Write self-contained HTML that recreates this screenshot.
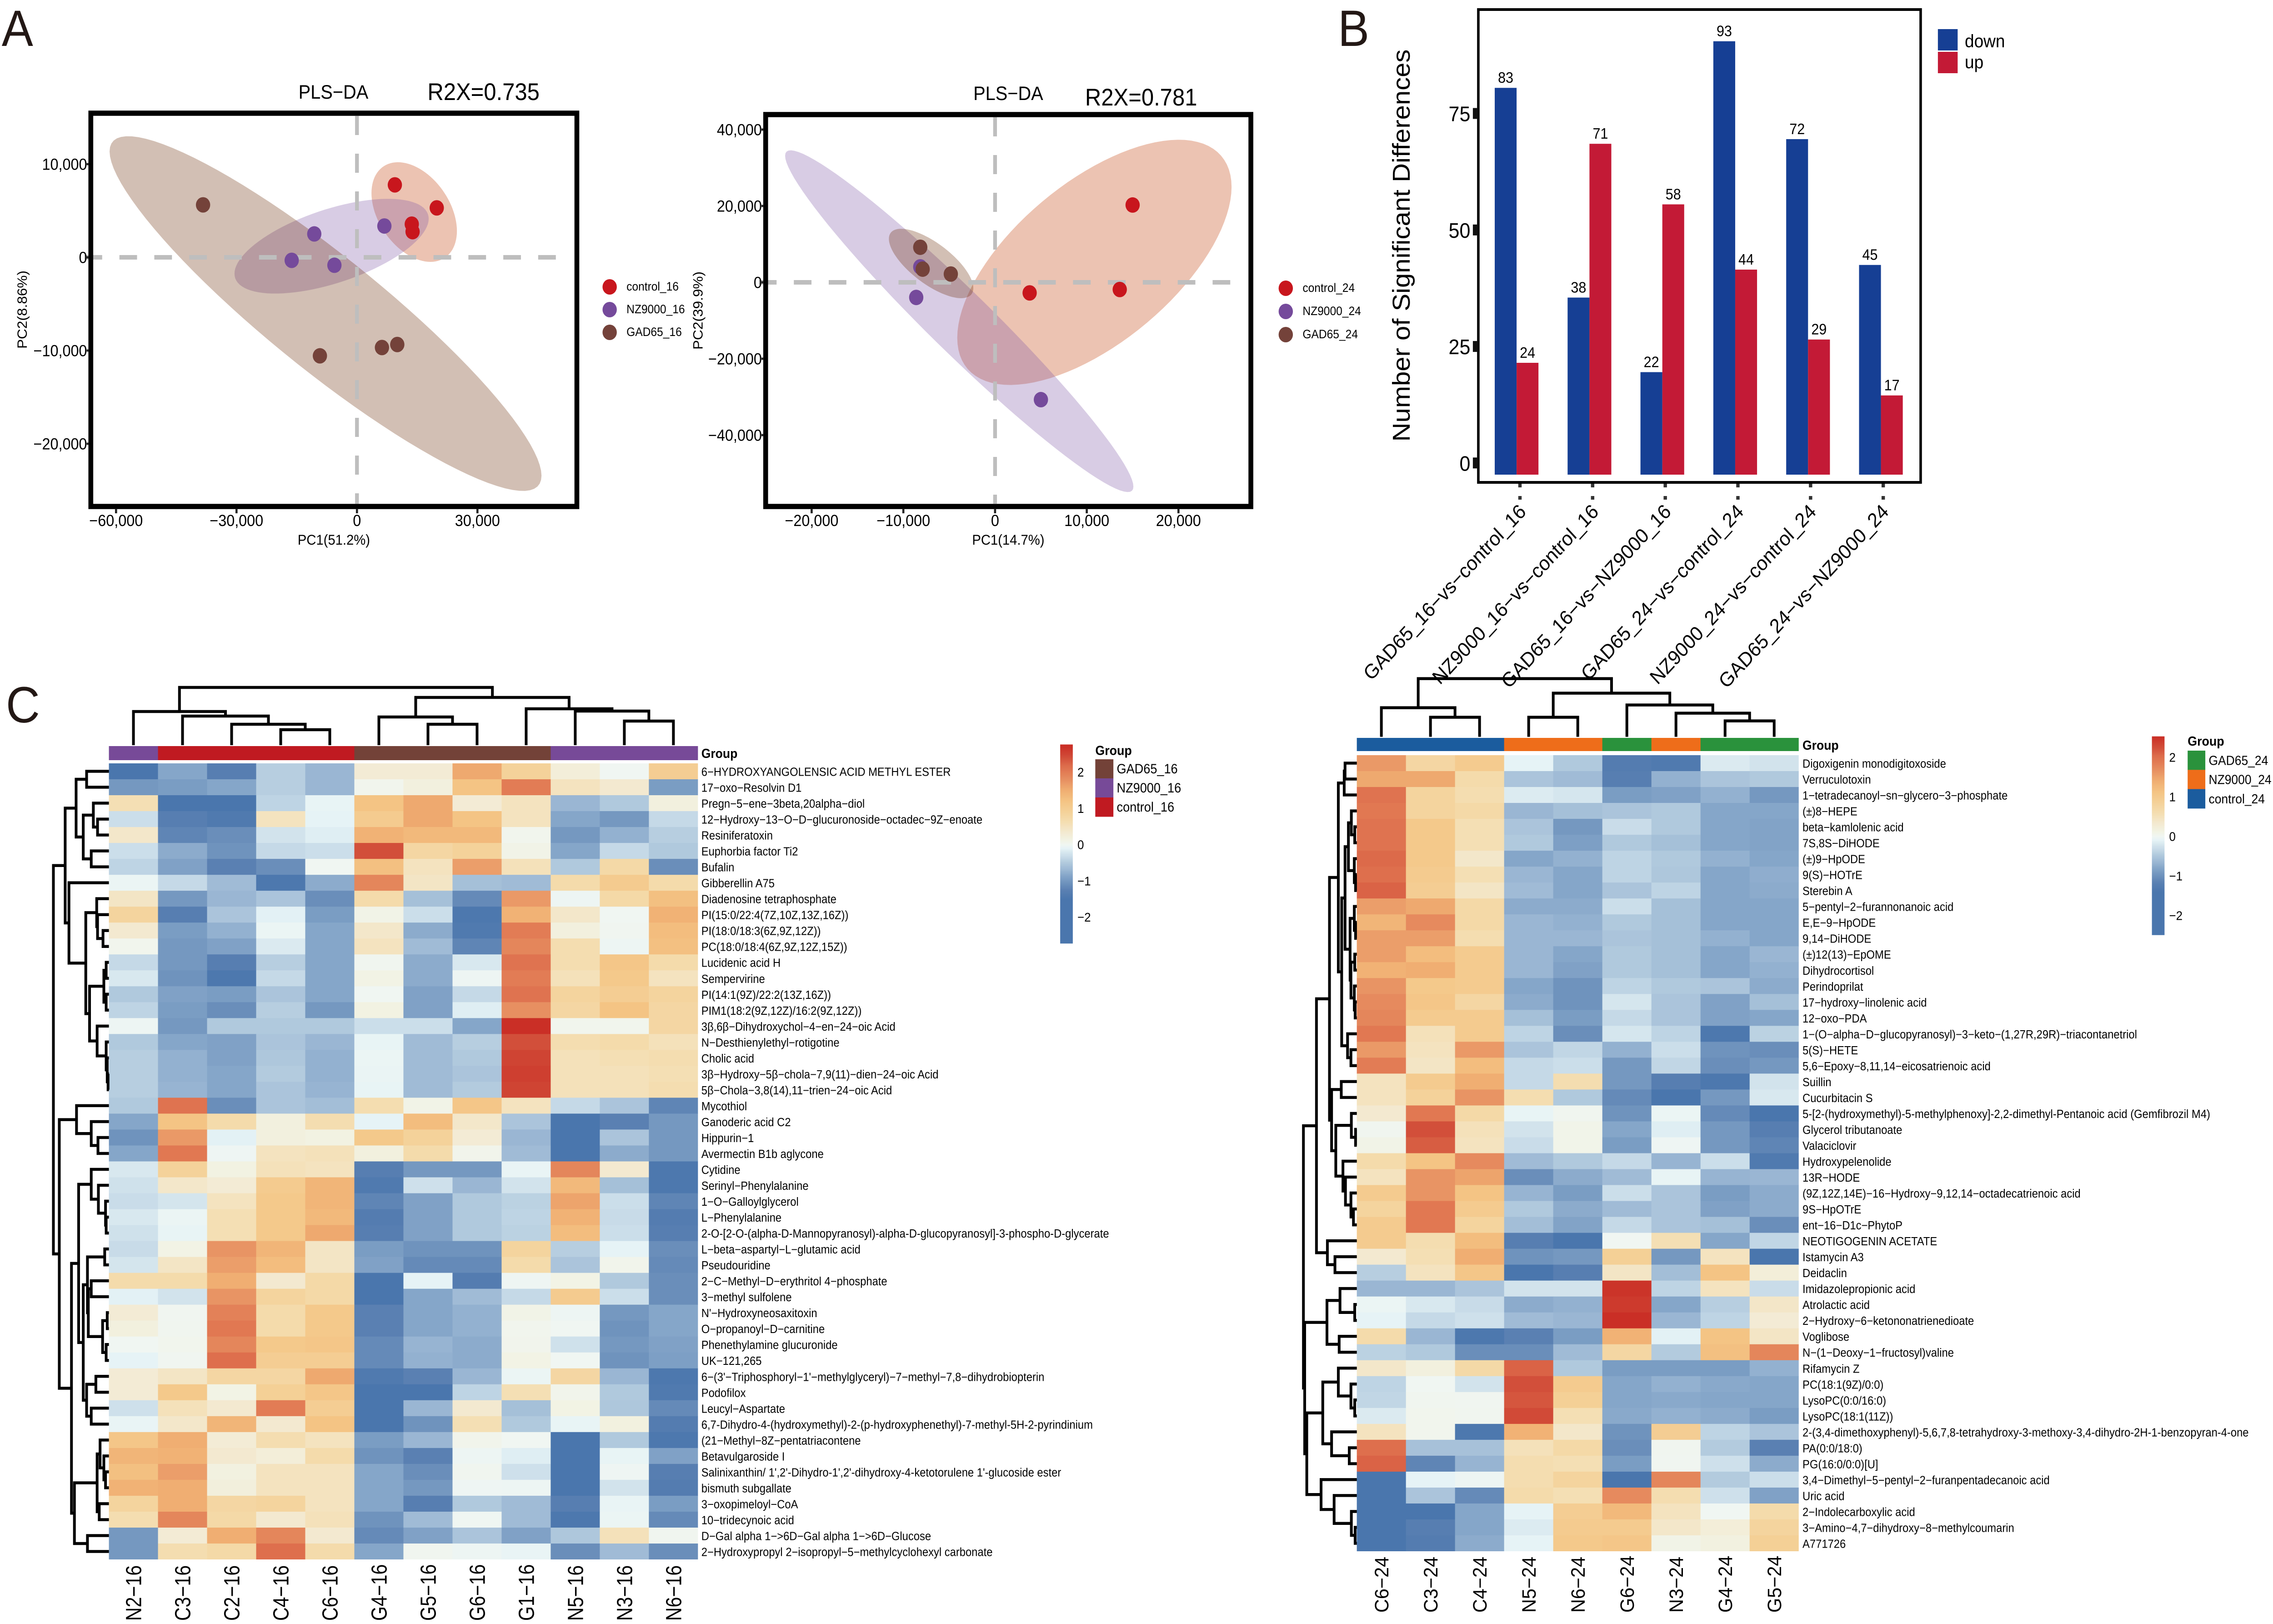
<!DOCTYPE html>
<html lang="en">
<head>
<meta charset="utf-8">
<title>Metabolomics multi-panel figure</title>
<style>
html,body{margin:0;padding:0;background:#fff;width:100vw;height:100vh;overflow:hidden;}
svg{display:block;width:100vw;height:100vh;font-family:"Liberation Sans",sans-serif;}
</style>
</head>
<body>
<svg id="fig" xmlns="http://www.w3.org/2000/svg" viewBox="0 0 5406 3572" preserveAspectRatio="none">
<rect x="0" y="0" width="5406" height="3572" fill="#fff"/>
<text x="4" y="101" font-size="112" fill="#231815">A</text>
<text x="3182" y="101" font-size="112" fill="#231815">B</text>
<text x="14" y="1589" font-size="112" fill="#231815">C</text>

<text x="793" y="217" font-size="43" text-anchor="middle">PLS−DA</text>
<text x="1150" y="220" font-size="53" text-anchor="middle">R2X=0.735</text>
<text x="2398" y="220" font-size="43" text-anchor="middle">PLS−DA</text>
<text x="2714" y="232" font-size="53" text-anchor="middle">R2X=0.781</text>
<text x="794" y="1198" font-size="31.6" text-anchor="middle">PC1(51.2%)</text>
<text x="2398" y="1198" font-size="31.6" text-anchor="middle">PC1(14.7%)</text>
<text transform="translate(64,681) rotate(-90)" font-size="31.6" text-anchor="middle">PC2(8.86%)</text>
<text transform="translate(1671,683) rotate(-90)" font-size="31.6" text-anchor="middle">PC2(39.9%)</text>
<text transform="translate(3353,540) rotate(-90)" font-size="58" text-anchor="middle">Number of Significant Differences</text>

<g id="panelA1"></g>
<g id="panelA2"></g>
<g id="panelB"></g>
<g id="panelC1"></g>
<g id="panelC2"></g>
</svg>

<script>
/* ---------- Panel A data ---------- */
const groups16 = ['control_16', 'NZ9000_16', 'GAD65_16'];
const groups24 = ['control_24', 'NZ9000_24', 'GAD65_24'];

const pc1Control16 = [9433, 19870, 13648, 13848];
const pc2Control16 = [7774, 5304, 3563, 2753];
const pc1Nz16 = [6824, -10637, -16257, -5620];
const pc2Nz16 = [3361, 2510, -324, -850];
const pc1Gad16 = [-38334, -9232, 6222, 10035];
const pc2Gad16 = [5628, -10568, -9677, -9353];

const pc1Control24 = [15000, 3772, 13597];
const pc2Control24 = [20248, -2766, -1877];
const pc1Nz24 = [-8158, -8597, 5000];
const pc2Nz24 = [4050, -3951, -30717];
const pc1Gad24 = [-8158, -7895, -4825];
const pc2Gad24 = [9186, 3457, 2173];

/* ellipses: centre pc1, centre pc2, half-extent pc1, half-extent pc2, correlation */
const ellipseControl16 = [14250, 4859, 10637, 5345, -0.38];
const ellipseNz16 = [-6322, 1194, 24184, 5081, 0.58];
const ellipseGad16 = [-7827, -6033, 53788, 19030, -0.914];
const ellipseControl24 = [10833, 5235, 14956, 32100, 0.615];
const ellipseNz24 = [-3904, -10173, 18991, 44743, -0.968];
const ellipseGad24 = [-6974, 4938, 4605, 9087, -0.71];

const xTicks16 = [-60000, -30000, 0, 30000];
const yTicks16 = [10000, 0, -10000, -20000];
const xTicks24 = [-20000, -10000, 0, 10000, 20000];
const yTicks24 = [40000, 20000, 0, -20000, -40000];

/* ---------- Panel B data ---------- */
const comparisons = ['GAD65_16−vs−control_16', 'NZ9000_16−vs−control_16', 'GAD65_16−vs−NZ9000_16', 'GAD65_24−vs−control_24', 'NZ9000_24−vs−control_24', 'GAD65_24−vs−NZ9000_24'];
const downCounts = [83, 38, 22, 93, 72, 45];
const upCounts = [24, 71, 58, 44, 29, 17];
const countTicks = [0, 25, 50, 75];

/* ---------- Panel C data: 16 h ---------- */
const samples16 = ['N2−16', 'C3−16', 'C2−16', 'C4−16', 'C6−16', 'G4−16', 'G5−16', 'G6−16', 'G1−16', 'N5−16', 'N3−16', 'N6−16'];
const sampleGroups16 = ['NZ9000_16', 'control_16', 'control_16', 'control_16', 'control_16', 'GAD65_16', 'GAD65_16', 'GAD65_16', 'GAD65_16', 'NZ9000_16', 'NZ9000_16', 'NZ9000_16'];
const metabolites16 = ['6−HYDROXYANGOLENSIC ACID METHYL ESTER', '17−oxo−Resolvin D1', 'Pregn−5−ene−3beta,20alpha−diol', '12−Hydroxy−13−O−D−glucuronoside−octadec−9Z−enoate', 'Resiniferatoxin', 'Euphorbia factor Ti2', 'Bufalin', 'Gibberellin A75', 'Diadenosine tetraphosphate', 'PI(15:0/22:4(7Z,10Z,13Z,16Z))', 'PI(18:0/18:3(6Z,9Z,12Z))', 'PC(18:0/18:4(6Z,9Z,12Z,15Z))', 'Lucidenic acid H', 'Sempervirine', 'PI(14:1(9Z)/22:2(13Z,16Z))', 'PIM1(18:2(9Z,12Z)/16:2(9Z,12Z))', '3β,6β−Dihydroxychol−4−en−24−oic Acid', 'N−Desthienylethyl−rotigotine', 'Cholic acid', '3β−Hydroxy−5β−chola−7,9(11)−dien−24−oic Acid', '5β−Chola−3,8(14),11−trien−24−oic Acid', 'Mycothiol', 'Ganoderic acid C2', 'Hippurin−1', 'Avermectin B1b aglycone', 'Cytidine', 'Serinyl−Phenylalanine', '1−O−Galloylglycerol', 'L−Phenylalanine', '2-O-[2-O-(alpha-D-Mannopyranosyl)-alpha-D-glucopyranosyl]-3-phospho-D-glycerate', 'L−beta−aspartyl−L−glutamic acid', 'Pseudouridine', '2−C−Methyl−D−erythritol 4−phosphate', '3−methyl sulfolene', "N'−Hydroxyneosaxitoxin", 'O−propanoyl−D−carnitine', 'Phenethylamine glucuronide', 'UK−121,265', "6−(3'−Triphosphoryl−1'−methylglyceryl)−7−methyl−7,8−dihydrobiopterin", 'Podofilox', 'Leucyl−Aspartate', '6,7-Dihydro-4-(hydroxymethyl)-2-(p-hydroxyphenethyl)-7-methyl-5H-2-pyrindinium', '(21−Methyl−8Z−pentatriacontene', 'Betavulgaroside I', "Salinixanthin/ 1',2'-Dihydro-1',2'-dihydroxy-4-ketotorulene 1'-glucoside ester", 'bismuth subgallate', '3−oxopimeloyl−CoA', '10−tridecynoic acid', 'D−Gal alpha 1−>6D−Gal alpha 1−>6D−Glucose', '2−Hydroxypropyl 2−isopropyl−5−methylcyclohexyl carbonate'];
const heat16 = [
[-1.5,-.85,-1.3,-.45,-.7,.3,.3,1.55,.9,.25,0,1],
[-1,-.95,-.85,-.45,-.7,.05,.2,1.2,2,.5,.35,-.95],
[.6,-1.5,-1.5,-.4,-.08,1.2,1.55,.3,.5,-.7,-.5,.2],
[-.3,-1.3,-1.4,.5,-.1,1.05,1.55,1.2,.5,-.85,-1,-.35],
[.4,-1.2,-1.1,-.25,-.15,1.45,1.35,1.35,.05,-1,-.75,-.45],
[-.3,-.8,-1.05,-.35,-.3,2.4,.8,.9,.1,-.85,-.35,-.5],
[-.4,-.9,-1.25,-1.1,0,1.25,.5,1.65,.55,-.5,.75,-1.1],
[-.05,-.35,-.65,-1.45,-.8,1.9,.45,-.6,-.65,.7,1.05,.7],
[.45,-1,-.7,-.55,-1.1,.7,-.6,-1.15,1.7,-.03,.75,1.25],
[.85,-1.3,-.55,-.12,-.95,.1,-.3,-1.45,1.45,.4,0,1.45],
[.35,-.95,-.75,-.05,-.85,.4,-.8,-1.4,2,.2,.02,1.3],
[.05,-1,-.9,-.18,-.85,.5,-.65,-1.2,1.9,.65,-.03,1.25],
[-.35,-1,-1.3,-.45,-.85,.03,-.8,-.2,2.1,.65,1.15,.7],
[-.2,-1.05,-1.45,-.35,-.85,.12,-.8,-.03,2,.55,1.1,.5],
[-.5,-.9,-.95,-.55,-.85,0,-.9,-.35,2.1,.85,1,.85],
[-.4,-.95,-1.1,-.45,-1,.15,-.9,-.15,1.8,.8,1.2,.8],
[-.03,-1,-.5,-.5,-.5,-.3,-.3,-.85,2.7,.05,.05,.8],
[-.5,-.85,-.9,-.55,-.7,-.08,-.65,-.45,2.4,.65,.7,.55],
[-.45,-.75,-.9,-.52,-.75,-.05,-.65,-.5,2.5,.55,.6,.65],
[-.45,-.75,-.85,-.48,-.75,-.06,-.65,-.55,2.55,.55,.55,.6],
[-.45,-.72,-.85,-.55,-.72,-.08,-.65,-.48,2.5,.55,.55,.65],
[-.5,2.1,-1.1,-.55,-.62,.65,.1,1.15,.5,-.35,-.55,-1.2],
[-.85,1.2,.7,.2,.65,-.1,1.3,.4,-.55,-1.5,-1.25,-1],
[-1.05,1.7,-.12,.2,.15,1.1,.9,.3,-.7,-1.5,-.55,-1],
[-.85,2.05,-.02,.5,.55,.2,.7,.07,-.65,-1.5,-.8,-1],
[-.2,.9,.15,.55,.5,-1.3,-1,-1,-.07,1.9,.35,-1.45],
[-.27,.4,.3,1.05,1.4,-1.4,-.28,-.7,-.25,1.35,-.6,-1.45],
[-.32,-.23,.5,1.1,1.4,-1.2,-.9,-.5,-.42,1.6,-.3,-1.2],
[-.2,-.05,.6,1.1,1.35,-1.35,-.9,-.5,-.4,1.45,-.33,-1.35],
[-.27,-.08,.6,1.1,1.55,-1.3,-.9,-.5,-.42,1.3,-.3,-1.3],
[-.33,.12,1.75,1.4,.45,-.95,-1.05,-1.05,.85,-.45,-.1,-1.1],
[-.23,.45,1.65,1.3,.45,-.9,-1.15,-1.15,.7,-.55,.07,-1.15],
[.7,.7,1.5,.35,.75,-1.5,-.1,-1.35,-.02,.12,-.5,-1.1],
[-.12,-.25,1.75,.85,.75,-1.5,-.85,-.65,-.35,1.05,-.3,-1.1],
[.3,.02,1.95,.7,1.1,-1.25,-.85,-.75,.1,-.03,-1,-.85],
[.2,.03,2.05,.7,1.1,-1.25,-.85,-.75,.05,0,-1.05,-.85],
[0,.05,1.9,1.1,1.15,-1.15,-.72,-.8,.06,-.27,-1,-.9],
[-.1,.02,2.15,1,1,-1.15,-.75,-.8,.12,0,-1.05,-.92],
[.3,.45,.8,.8,1.55,-1.4,-1.25,-.7,-.05,.8,-.7,-1.45],
[.3,1.1,.12,.95,1.15,-1.5,-1.5,-.4,.6,.07,-.5,-1.4],
[-.28,.55,.35,2,1,-1.5,-.7,.35,-.6,.13,-.52,-1.15],
[-.07,.4,1.4,.35,1.2,-1.5,-1.05,.6,-.5,-.08,.18,-1.35],
[1.15,1.5,.28,.65,.5,-.95,-.7,.07,0,-1.5,-.5,-1.45],
[1.4,1.45,.35,.25,.7,-1.05,-1.25,-.03,-.15,-1.5,-.08,-.9],
[1.25,1.65,.17,.5,.5,-.85,-1.1,.03,-.28,-1.5,-.02,-1.3],
[1.45,1.5,.22,.5,.5,-.85,-1,-.02,-.03,-1.5,-.25,-1.35],
[.85,1.5,.8,.85,.5,-.85,-1.3,-.5,-.65,-1.3,-.07,-.95],
[.65,1.9,.75,.35,.55,-1.05,-.65,-.01,-.65,-1.45,-.05,-1.15],
[-1,.3,1.5,1.9,.35,-1.15,-.9,-.55,-.9,-.52,.55,.03],
[-1,.65,.75,2.15,.7,-.85,.03,-.03,-.07,-1.1,-.65,-1.1]
];
/* dendrogram nodes: [merge distance, child, child]; numbers are 1-based leaves */
const colTree16 = [127, [74, 1, [64, 2, [46, 3, [34, 4, 5]]]], [105, [62, 6, [46, 7, 8]], [80, 9, [75, 10, [53, 11, 12]]]]];
const rowTree16 = [132,
  [104,
    [78, [53, 1, 2], [61, [37, 3, [27, 4, 5]], [42, 6, 7]]],
    [95, 8, [55, [29, 9, [27, 10, [14, 11, 12]]], [46, [12, [6.5, 13, 14], [6.5, 15, 16]], [28, 17, [6.5, 18, [4, 19, [2, 20, 21]]]]]]]],
  [118,
    [77, 22, [42, 23, [26, 24, 25]]],
    [89,
      [72, [42, 26, [25, 27, [8, 28, [6.5, 29, 30]]]],
        [61, [51, [10, 31, 32], [49, [42, 33, 34], [15, [4, 35, 36], [6.5, 37, 38]]]], [53, [31, 39, 40], [42, 41, 42]]]],
      [82, [28, [21, 43, [12, 44, [8, 45, 46]]], [23, 47, 48]], [51, 49, 50]]]]];

/* ---------- Panel C data: 24 h ---------- */
const samples24 = ['C6−24', 'C3−24', 'C4−24', 'N5−24', 'N6−24', 'G6−24', 'N3−24', 'G4−24', 'G5−24'];
const sampleGroups24 = ['control_24', 'control_24', 'control_24', 'NZ9000_24', 'NZ9000_24', 'GAD65_24', 'NZ9000_24', 'GAD65_24', 'GAD65_24'];
const metabolites24 = ['Digoxigenin monodigitoxoside', 'Verruculotoxin', '1−tetradecanoyl−sn−glycero−3−phosphate', '(±)8−HEPE', 'beta−kamlolenic acid', '7S,8S−DiHODE', '(±)9−HpODE', '9(S)−HOTrE', 'Sterebin A', '5−pentyl−2−furannonanoic acid', 'E,E−9−HpODE', '9,14−DiHODE', '(±)12(13)−EpOME', 'Dihydrocortisol', 'Perindoprilat', '17−hydroxy−linolenic acid', '12−oxo−PDA', '1−(O−alpha−D−glucopyranosyl)−3−keto−(1,27R,29R)−triacontanetriol', '5(S)−HETE', '5,6−Epoxy−8,11,14−eicosatrienoic acid', 'Suillin', 'Cucurbitacin S', '5-[2-(hydroxymethyl)-5-methylphenoxy]-2,2-dimethyl-Pentanoic acid (Gemfibrozil M4)', 'Glycerol tributanoate', 'Valaciclovir', 'Hydroxypelenolide', '13R−HODE', '(9Z,12Z,14E)−16−Hydroxy−9,12,14−octadecatrienoic acid', '9S−HpOTrE', 'ent−16−D1c−PhytoP', 'NEOTIGOGENIN ACETATE', 'Istamycin A3', 'Deidaclin', 'Imidazolepropionic acid', 'Atrolactic acid', '2−Hydroxy−6−ketononatrienedioate', 'Voglibose', 'N−(1−Deoxy−1−fructosyl)valine', 'Rifamycin Z', 'PC(18:1(9Z)/0:0)', 'LysoPC(0:0/16:0)', 'LysoPC(18:1(11Z))', '2-(3,4-dimethoxyphenyl)-5,6,7,8-tetrahydroxy-3-methoxy-3,4-dihydro-2H-1-benzopyran-4-one', 'PA(0:0/18:0)', 'PG(16:0/0:0)[U]', '3,4−Dimethyl−5−pentyl−2−furanpentadecanoic acid', 'Uric acid', '2−Indolecarboxylic acid', '3−Amino−4,7−dihydroxy−8−methylcoumarin', 'A771726'];
const heat24 = [
[1.7,.8,1.05,-.1,-.5,-1.35,-1.4,-.18,-.25],
[1.55,1.55,.7,-.55,-.65,-1.3,-.75,-.55,-.5],
[2.1,.85,.65,-.17,-.22,-.95,-.9,-.75,-1],
[2.05,.85,.75,-.7,-.6,-.55,-.5,-.85,-.85],
[2.1,1.1,.6,-.55,-1,-.32,-.5,-.85,-.88],
[2.1,1.1,.6,-.5,-.92,-.5,-.6,-.85,-.88],
[2.2,1.1,.4,-.85,-.75,-.4,-.5,-.75,-.85],
[2.15,1.05,.6,-.7,-.85,-.4,-.52,-.85,-.78],
[2.25,1,.45,-.65,-.85,-.55,-.4,-.85,-.8],
[1.65,1.55,.75,-.8,-.8,-.3,-.6,-.85,-.85],
[1.4,1.85,.75,-.7,-.75,-.5,-.6,-.85,-.85],
[1.65,1.65,.65,-.7,-.7,-.55,-.6,-.75,-.85],
[1.65,1.3,1.05,-.7,-.85,-.5,-.6,-.85,-.7],
[1.45,1.5,1.05,-.7,-.9,-.5,-.6,-.85,-.75],
[1.75,1.1,1.05,-.85,-1.05,-.4,-.5,-.55,-.8],
[1.85,1.15,.8,-.8,-1.05,-.22,-.55,-.9,-.6],
[1.9,1.05,1.05,-.6,-.95,-.35,-.55,-.9,-.85],
[2.05,.55,1.05,-.4,-1.1,-.22,-.4,-1.45,-.42],
[1.7,.5,1.7,-.55,-.38,-.75,-.3,-1.05,-1.1],
[2,.45,1.3,-.35,-.3,-1,-.38,-1.1,-1],
[.5,1.05,1.5,-.35,.65,-1,-1.3,-1.45,-.25],
[.5,.9,1.75,.65,-.5,-1.15,-1.5,-1,-.2],
[.35,2.05,.75,-.08,.03,-1.05,-.05,-1.15,-1.5],
[.03,2.4,.55,-.25,.08,-.85,-.15,-1,-1.3],
[.1,2.3,.5,-.32,.08,-.95,-.02,-1,-1.2],
[.7,1.2,1.85,-.65,-.5,-.35,-.72,-.3,-1.4],
[.5,1.75,1.6,-1.1,-.8,-.65,-.08,-.72,-.7],
[1.05,1.75,1.2,-.72,-.95,-.3,-.55,-.95,-.8],
[.85,2.05,1.05,-.5,-.8,-.65,-.55,-.9,-.8],
[1.05,2.05,.85,-.62,-.88,-.35,-.55,-.6,-1.1],
[1.05,.65,1.3,-1.3,-1.5,0,.6,-.85,-.38],
[.35,.6,1.5,-1.05,-1,.95,-1,.5,-1.5],
[-.45,.5,1.15,-1.5,-1.3,.45,-.62,1.2,.25],
[-.7,-.7,-.55,-.25,-.25,2.65,-.4,.5,-.32],
[-.05,-.2,-.33,-.8,-.75,2.6,-.85,-.45,.42],
[-.1,-.35,-.28,-.65,-.7,2.7,-.7,-.4,.3],
[.7,-.7,-1.45,-1.25,-.95,1.45,-.12,1.2,.45],
[-.42,-.5,-1.1,-1.1,-.65,.8,-.48,1.25,1.9],
[.4,.2,.75,2.25,-.5,-.95,-.95,-.95,-.75],
[-.4,0,-.25,2.4,1.05,-.85,-.75,-.82,-.85],
[-.38,.03,.02,2.35,.95,-.85,-.82,-.85,-.85],
[-.18,.05,.03,2.45,.6,-.82,-.75,-.8,-.95],
[.5,.05,-1.45,1.45,.4,-1.05,1,-.4,-.55],
[2.15,-.58,-.58,.55,.75,-1.1,.03,-.48,-1.25],
[2.25,-1.2,-.72,.65,.6,-.95,.02,-.28,-.8],
[-1.5,-.1,-.03,.65,.85,-1.5,1.9,-.48,-.3],
[-1.5,-.55,-1.15,.7,.6,1.85,.65,-.28,-.9],
[-1.5,-1.5,-.85,-.1,1,1.35,.5,0,.7],
[-1.5,-1.3,-.85,-.17,1.05,1.05,.4,.25,.85],
[-1.5,-1.35,-.8,-.1,1.1,1.15,.1,.17,.95]
];
const colTree24 = [128, [64, 1, [43, 2, 3]], [96, [43, 4, 5], [70, 6, [52, 7, [35, 8, 9]]]]];
const rowTree24 = [127,
  [96,
    [65,
      [44, [30, [28, 1, 2], 3],
        [36, [28,
          [20, [13, 4, [5, 5, 6]], [6, 7, [3, 8, 9]]],
          [16, [6, 10, [3, 11, 12]], [14, [5, 13, 14], [6, 15, [4, 16, 17]]]]],
          [22, 18, [14, 19, 20]]]],
      [60, [37, 21, 22], [50, [13, 23, [3, 24, 25]], [33, 26, [27, 27, [14, 28, [8, 29, 30]]]]]]],
    [70, 31, [52, 32, 33]]],
  [124,
    [71, [40, 34, [5, 35, 36]], [42, 37, 38]],
    [119,
      [81, [44, 39, [14, 40, [5, 41, 42]]], [60, 43, [18, 44, 45]]],
      [85, 46, [54, 47, [13, 48, [4, 49, 50]]]]]]];

const legendTicks = [2, 1, 0, -1, -2];

/* ---------- helpers ---------- */
const NS = 'http://www.w3.org/2000/svg';
function add(parent, tag, attrs, text) {
  const e = document.createElementNS(NS, tag);
  for (const k in attrs) e.setAttribute(k, attrs[k]);
  if (text !== undefined) e.textContent = text;
  parent.appendChild(e);
  return e;
}
function linear(d0, d1, r0, r1) {
  return v => r0 + (v - d0) * (r1 - r0) / (d1 - d0);
}
function fmt(v) {
  const s = Math.abs(v).toString().replace(/\B(?=(\d{3})+$)/g, ',');
  return (v < 0 ? '−' : '') + s;
}
const heatStops = [[-1.5,'#4a76ad'],[-1.25,'#5a80b2'],[-1.05,'#6f93bd'],[-.85,'#85a6c9'],[-.7,'#9ab6d3'],[-.5,'#b0c9dd'],[-.35,'#c5d9e7'],[-.2,'#d8e8ef'],[-.1,'#e6f3f6'],[0,'#f0f6f2'],[.15,'#f2f2e2'],[.35,'#f3e9d0'],[.6,'#f4dfb4'],[.9,'#f4d29a'],[1.2,'#f4c484'],[1.5,'#f0ae72'],[1.75,'#e89464'],[2,'#e27c55'],[2.2,'#dc6a4a'],[2.4,'#d24f3a'],[2.7,'#ca2f26']];
function hex(c) {
  return [parseInt(c.slice(1, 3), 16), parseInt(c.slice(3, 5), 16), parseInt(c.slice(5, 7), 16)];
}
function heatColor(v) {
  if (v <= heatStops[0][0]) return heatStops[0][1];
  for (let i = 1; i < heatStops.length; i++) {
    if (v <= heatStops[i][0]) {
      const t = (v - heatStops[i - 1][0]) / (heatStops[i][0] - heatStops[i - 1][0]);
      const a = hex(heatStops[i - 1][1]), b = hex(heatStops[i][1]);
      return 'rgb(' + a.map((x, j) => Math.round(x + (b[j] - x) * t)).join(',') + ')';
    }
  }
  return heatStops[heatStops.length - 1][1];
}

/* ---------- Panel A ---------- */
function drawPls(root, cfg) {
  const x = cfg.x, y = cfg.y;
  const f = cfg.frame;
  const colors = ['#c8161d', '#754a9b', '#74423a'];
  const ellipseFill = ['#c03700', '#7d55a5', '#692a05'];
  cfg.ellipses.forEach((el, g) => {
    let d = '';
    const s = Math.sqrt(1 - el[4] * el[4]);
    for (let i = 0; i <= 96; i++) {
      const t = i / 96 * 2 * Math.PI;
      const px = x(el[0] + el[2] * Math.cos(t));
      const py = y(el[1] + el[3] * (el[4] * Math.cos(t) + s * Math.sin(t)));
      d += (i ? 'L' : 'M') + px.toFixed(1) + ' ' + py.toFixed(1);
    }
    const p = add(root, 'path', { d: d + 'Z', fill: ellipseFill[g], 'fill-opacity': 0.3 });
    
    
  });
  const hl = add(root, 'line', { x1: cfg.hx0, x2: cfg.hx1, y1: y(0), y2: y(0), stroke: '#bebebe', 'stroke-width': 10, 'stroke-dasharray': '42 41' });
  
  
  const vl = add(root, 'line', { x1: x(0), x2: x(0), y1: f[1] + 6, y2: f[3] - 6, stroke: '#bebebe', 'stroke-width': 9, 'stroke-dasharray': '42 41' });
  
  
  cfg.points.forEach((pt, g) => {
    pt[0].forEach((v, i) => {
      const c = add(root, 'circle', { cx: x(v), cy: y(pt[1][i]), r: 17, fill: colors[g] });
      
      
    });
  });
  const fr = add(root, 'rect', { x: f[0], y: f[1], width: f[2] - f[0], height: f[3] - f[1], fill: 'none', stroke: '#000', 'stroke-width': 11.5 });
  
  
  cfg.xTicks.forEach(v => {
    const t = add(root, 'line', { x1: x(v), x2: x(v), y1: f[3] + 5, y2: f[3] + 15, stroke: '#222', 'stroke-width': 5 });
    
    
    const l = add(root, 'text', { x: x(v), y: 1157, 'font-size': 35, 'text-anchor': 'middle' }, fmt(v));
    
    
  });
  cfg.yTicks.forEach(v => {
    const t = add(root, 'line', { x1: f[0] - 5, x2: f[0] - 10, y1: y(v), y2: y(v), stroke: '#222', 'stroke-width': 5 });
    
    
    const l = add(root, 'text', { x: f[0] - 9, y: y(v) + 12.5, 'font-size': 35, 'text-anchor': 'end' }, fmt(v));
    
    
  });
  cfg.groups.forEach((g, i) => {
    const c = add(root, 'circle', { cx: cfg.legX, cy: cfg.legY + i * cfg.legStep, r: 17, fill: colors[i] });
    
    
    const l = add(root, 'text', { x: cfg.legX + 40, y: cfg.legY + i * cfg.legStep + 8, 'font-size': 26.6 }, g);
    
    
  });
}
drawPls(document.getElementById('panelA1'), {
  x: linear(0, 30000, 849, 1135.5), y: linear(0, 10000, 566, 361),
  frame: [216, 249, 1372, 1114], hx0: 201, hx1: 1333,
  groups: groups16, xTicks: xTicks16, yTicks: yTicks16,
  ellipses: [ellipseControl16, ellipseNz16, ellipseGad16],
  points: [[pc1Control16, pc2Control16], [pc1Nz16, pc2Nz16], [pc1Gad16, pc2Gad16]],
  legX: 1450, legY: 631, legStep: 50
});
drawPls(document.getElementById('panelA2'), {
  x: linear(0, 10000, 2366.6, 2584.7), y: linear(0, 20000, 621, 453),
  frame: [1821, 252, 2975, 1114], hx0: 1805, hx1: 2940,
  groups: groups24, xTicks: xTicks24, yTicks: yTicks24,
  ellipses: [ellipseControl24, ellipseNz24, ellipseGad24],
  points: [[pc1Control24, pc2Control24], [pc1Nz24, pc2Nz24], [pc1Gad24, pc2Gad24]],
  legX: 3058, legY: 634, legStep: 51
});

/* ---------- Panel B ---------- */
(function () {
  const root = document.getElementById('panelB');
  const yB = linear(0, 100, 1044, 19);
  const catX = i => 3607 + 173.3 * i;
  const barW = 52;
  comparisons.forEach((name, i) => {
    const cx = catX(i);
    const b1 = add(root, 'rect', { x: cx - barW, y: yB(downCounts[i]), width: barW, height: yB(0) - yB(downCounts[i]), fill: '#163f94' });
    
    
    const b2 = add(root, 'rect', { x: cx, y: yB(upCounts[i]), width: barW, height: yB(0) - yB(upCounts[i]), fill: '#c31a36' });
    
    
    const l1 = add(root, 'text', { x: cx - barW / 2, y: yB(downCounts[i]) - 11, 'font-size': 33, 'text-anchor': 'middle' }, downCounts[i]);
    
    
    const l2 = add(root, 'text', { x: cx + barW / 2, y: yB(upCounts[i]) - 11, 'font-size': 33, 'text-anchor': 'middle' }, upCounts[i]);
    
    
    const tx = 3615 + 172.8 * i;
    const tk = add(root, 'line', { x1: tx, x2: tx, y1: 1064, y2: 1099, stroke: '#333', 'stroke-width': 8, 'stroke-dasharray': '8 19' });
    
    
    const ax = 3632 + 172.5 * i;
    const xl = add(root, 'text', { x: ax, y: 1128, 'font-size': 44.5, 'text-anchor': 'end', transform: 'rotate(-45 ' + ax + ' 1128)' }, name);
    
    
  });
  const fr = add(root, 'rect', { x: 3516, y: 21, width: 1052, height: 1040, fill: 'none', stroke: '#000', 'stroke-width': 6 });
  
  
  countTicks.forEach(v => {
    const ty = yB(v) - 25.7;
    const t = add(root, 'rect', { x: 3503, y: ty - 12, width: 10, height: 24, fill: '#111' });
    
    
    const l = add(root, 'text', { x: 3497, y: ty + 17, 'font-size': 46.5, 'text-anchor': 'end' }, v);
    
    
  });
  const r1 = add(root, 'rect', { x: 4609, y: 64, width: 47, height: 47, fill: '#163f94' });
  
  
  const r2 = add(root, 'rect', { x: 4609, y: 114, width: 47, height: 47, fill: '#c31a36' });
  
  
  const t1 = add(root, 'text', { x: 4673, y: 104, 'font-size': 40 }, 'down');
  
  
  const t2 = add(root, 'text', { x: 4673, y: 150, 'font-size': 40 }, 'up');
  
  
})();

/* ---------- Panel C ---------- */
function drawDendro(root, tree, leafPos, base, orient, label) {
  function walk(n) {
    if (typeof n === 'number') return { p: leafPos(n - 1), h: 0 };
    const a = walk(n[1]), b = walk(n[2]);
    let d;
    if (orient === 'top') {
      d = 'M' + a.p + ' ' + (base - a.h) + 'V' + (base - n[0]) + 'H' + b.p + 'V' + (base - b.h);
    } else {
      d = 'M' + (base - a.h) + ' ' + a.p + 'H' + (base - n[0]) + 'V' + b.p + 'H' + (base - b.h);
    }
    const pth = add(root, 'path', { d: d, fill: 'none', stroke: '#000', 'stroke-width': 6.5, 'stroke-linejoin': 'miter', 'stroke-linecap': 'butt' });
    
    
    return { p: (a.p + b.p) / 2, h: n[0] };
  }
  walk(tree);
}
function drawHeat(root, c) {
  const cellW = c.w / c.samples.length, cellH = c.h / c.rows.length;
  const colX = i => c.x + cellW * (i + 0.5);
  const rowY = i => c.y + cellH * (i + 0.5);
  c.values.forEach((row, r) => {
    row.forEach((v, j) => {
      const rc = add(root, 'rect', { x: c.x + cellW * j, y: c.y + cellH * r, width: cellW + (j < row.length - 1 ? 0.6 : 0), height: cellH + (r < c.rows.length - 1 ? 0.6 : 0), fill: heatColor(v) });
      
      
    });
    const l = add(root, 'text', { x: c.labelX, y: rowY(r) + 10, 'font-size': 25.7 }, c.rows[r]);
    
    
  });
  c.samples.forEach((s, j) => {
    const b = add(root, 'rect', { x: c.x + cellW * j, y: c.annY, width: cellW + (j < c.samples.length - 1 ? 0.6 : 0), height: c.annH, fill: c.groupColors[c.sampleGroups[j]] });
    
    
    const t = add(root, 'text', { transform: 'translate(' + (colX(j) + c.colOff) + ',' + c.colY + ') rotate(-90) scale(' + c.colScale + ',1)', 'font-size': c.colFont }, s);
    
    
  });
  const gl = add(root, 'text', { x: c.labelX, y: c.annY + 26, 'font-size': 28.7, 'font-weight': 'bold' }, 'Group');
  
  
  drawDendro(root, c.colTree, colX, c.colBase, 'top', 'column-dendrogram-branch');
  drawDendro(root, c.rowTree, rowY, c.x, 'left', 'row-dendrogram-branch');

  const barY = linear(0, 1, c.bar.zero, c.bar.zero - c.bar.unit);
  const top = c.bar.top, bottom = c.bar.bottom;
  const steps = 120;
  for (let i = 0; i < steps; i++) {
    const v = bottom + (top - bottom) * (i + 0.5) / steps;
    const h = (barY(bottom) - barY(top)) / steps;
    const s = add(root, 'rect', { x: c.bar.x, y: barY(bottom + (top - bottom) * (i + 1) / steps), width: c.bar.w, height: h + (i ? 0.6 : 0), fill: heatColor(v * c.bar.k) });
    
    
  }
  legendTicks.forEach(v => {
    const t = add(root, 'text', { x: c.bar.x + c.bar.w + 11, y: barY(v) + 10, 'font-size': 28 }, fmt(v));
    
    
  });
  const lt = add(root, 'text', { x: c.leg.x, y: c.leg.titleY, 'font-size': 29, 'font-weight': 'bold' }, 'Group');
  
  
  c.leg.names.forEach((g, i) => {
    const s = add(root, 'rect', { x: c.leg.x, y: c.leg.y + i * c.leg.h, width: c.leg.w, height: c.leg.h + 0.5, fill: c.groupColors[g] });
    
    
    const l = add(root, 'text', { x: c.leg.x + c.leg.w + 8, y: c.leg.y + i * c.leg.h + c.leg.h - 11, 'font-size': c.leg.font }, g);
    
    
  });
}
drawHeat(document.getElementById('panelC1'), {
  x: 259, y: 1679, w: 1401, h: 1751, labelX: 1668,
  samples: samples16, sampleGroups: sampleGroups16, rows: metabolites16, values: heat16,
  colTree: colTree16, rowTree: rowTree16, colBase: 1639,
  annY: 1641, annH: 31,
  groupColors: { GAD65_16: '#734238', NZ9000_16: '#774a98', control_16: '#c01a21' },
  colOff: 18.6, colY: 3565, colScale: 0.79, colFont: 52,
  bar: { x: 2521.5, w: 30, zero: 1857.6, unit: 79.75, top: 2.76, bottom: -2.73, k: 1 },
  leg: { x: 2605, y: 1670, w: 43, h: 42, titleY: 1660.6, font: 29.3, names: ['GAD65_16', 'NZ9000_16', 'control_16'] }
});
drawHeat(document.getElementById('panelC2'), {
  x: 3227, y: 1661, w: 1051, h: 1751, labelX: 4287,
  samples: samples24, sampleGroups: sampleGroups24, rows: metabolites24, values: heat24,
  colTree: colTree24, rowTree: rowTree24, colBase: 1620.6,
  annY: 1623, annH: 29,
  groupColors: { GAD65_24: '#2a923c', NZ9000_24: '#ee6d1a', control_24: '#1b5c9e' },
  colOff: 16.5, colY: 3547, colScale: 0.9, colFont: 46,
  bar: { x: 5118, w: 30, zero: 1839.5, unit: 86.9, top: 2.53, bottom: -2.5, k: 1.07 },
  leg: { x: 5203, y: 1651, w: 42, h: 42.3, titleY: 1640, font: 28.6, names: ['GAD65_24', 'NZ9000_24', 'control_24'] }
});
</script>
</body>
</html>
